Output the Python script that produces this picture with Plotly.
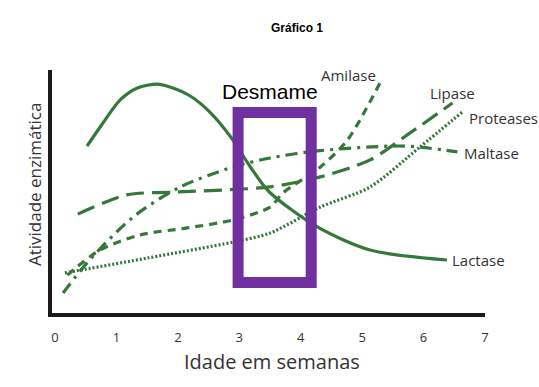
import plotly.graph_objects as go

# ---- data (y in arbitrary activity units 0-100) ----
lactase_x = [0.52, 0.78, 1.06, 1.34, 1.66, 1.87, 2.20, 2.52, 2.85, 3.18, 3.48, 4.27, 5.13, 6.38]
lactase_y = [68.7, 78.2, 87.7, 92.6, 94.2, 93.0, 89.3, 82.7, 72.8, 60.1, 50.0, 35.4, 25.9, 21.8]

maltase_x = [0.13, 0.52, 1.27, 2.04, 2.90, 3.50, 4.27, 5.67, 6.55]
maltase_y = [8.2, 20.6, 39.5, 51.9, 60.1, 63.8, 66.7, 68.7, 66.3]

lipase_x = [0.37, 1.17, 1.99, 3.50, 4.32, 5.13, 5.78, 6.47]
lipase_y = [40.7, 48.6, 49.8, 51.9, 56.0, 63.0, 74.1, 86.4]

amilase_x = [0.20, 0.73, 1.38, 2.15, 2.90, 3.50, 3.71, 4.32, 4.76, 5.29]
amilase_y = [15.6, 25.9, 32.1, 35.0, 38.3, 43.6, 49.4, 60.1, 71.2, 94.7]

proteases_x = [0.16, 1.50, 2.90, 3.50, 4.32, 5.13, 5.94, 6.63]
proteases_y = [16.5, 22.6, 29.2, 32.9, 43.6, 51.9, 68.3, 82.7]

x_ticks = [0, 1, 2, 3, 4, 5, 6, 7]

labels = ["Amilase", "Lipase", "Proteases", "Maltase", "Lactase"]
label_x = [4.77, 6.47, 6.71, 6.63, 6.43]
label_y = [97.9, 90.5, 80.2, 65.8, 21.8]
label_anchor = ["center", "center", "left", "left", "left"]

weaning_x = [2.98, 4.17]
weaning_y = [12.6, 82.5]

GREEN = "#34783A"
fig = go.Figure()

series = [
    (lactase_x, lactase_y, "solid"),
    (maltase_x, maltase_y, "12px,6px,3px,6px"),
    (lipase_x, lipase_y, "18px,8px"),
    (amilase_x, amilase_y, "8px,6px"),
    (proteases_x, proteases_y, "2px,2px"),
]
for xs, ys, dash in series:
    fig.add_trace(go.Scatter(x=xs, y=ys, mode="lines",
                             line=dict(color=GREEN, width=3.2, dash=dash, shape="spline", smoothing=0.8),
                             showlegend=False, hoverinfo="skip"))

for t, x, y, a in zip(labels, label_x, label_y, label_anchor):
    fig.add_annotation(x=x, y=y, text=t, showarrow=False, xanchor=a, yanchor="middle",
                       font=dict(family="Open Sans", size=15, color="#333333"))

fig.add_shape(type="rect", x0=weaning_x[0], x1=weaning_x[1], y0=weaning_y[0], y1=weaning_y[1],
              line=dict(color="#7030A0", width=11), fillcolor="rgba(0,0,0,0)")
fig.add_annotation(x=3.5, y=91, text="Desmame", showarrow=False, xanchor="center", yanchor="middle",
                   font=dict(family="Liberation Sans", size=21, color="black"))

fig.add_annotation(xref="paper", yref="paper", x=0.566, y=1.173, text="<b>Gráfico 1</b>",
                   xanchor="center", yanchor="middle",
                   showarrow=False, font=dict(family="Liberation Sans", size=12, color="black"))
fig.add_annotation(xref="paper", yref="paper", x=-0.039, y=0.527, text="Atividade enzimática",
                   textangle=-90, showarrow=False, xanchor="center", yanchor="middle",
                   font=dict(family="Open Sans", size=17, color="#333333"))
fig.add_annotation(xref="paper", yref="paper", x=0.508, y=-0.20, text="Idade em semanas",
                   showarrow=False, xanchor="center", yanchor="middle",
                   font=dict(family="Open Sans", size=20, color="#333333"))

fig.update_layout(
    width=539, height=387,
    margin=dict(l=52, r=54, t=70, b=74),
    plot_bgcolor="white", paper_bgcolor="white",
    xaxis=dict(range=[-0.05, 7.0], tickvals=x_ticks, showgrid=False, zeroline=False,
               showline=True, linecolor="#1a1a1a", linewidth=4,
               ticks="outside", ticklen=9, tickcolor="white",
               tickfont=dict(family="Open Sans", size=13, color="#333333")),
    yaxis=dict(range=[0, 100], showticklabels=False, showgrid=False, zeroline=False,
               showline=True, linecolor="#1a1a1a", linewidth=4, ticks=""),
)

fig.write_html("out.html")
